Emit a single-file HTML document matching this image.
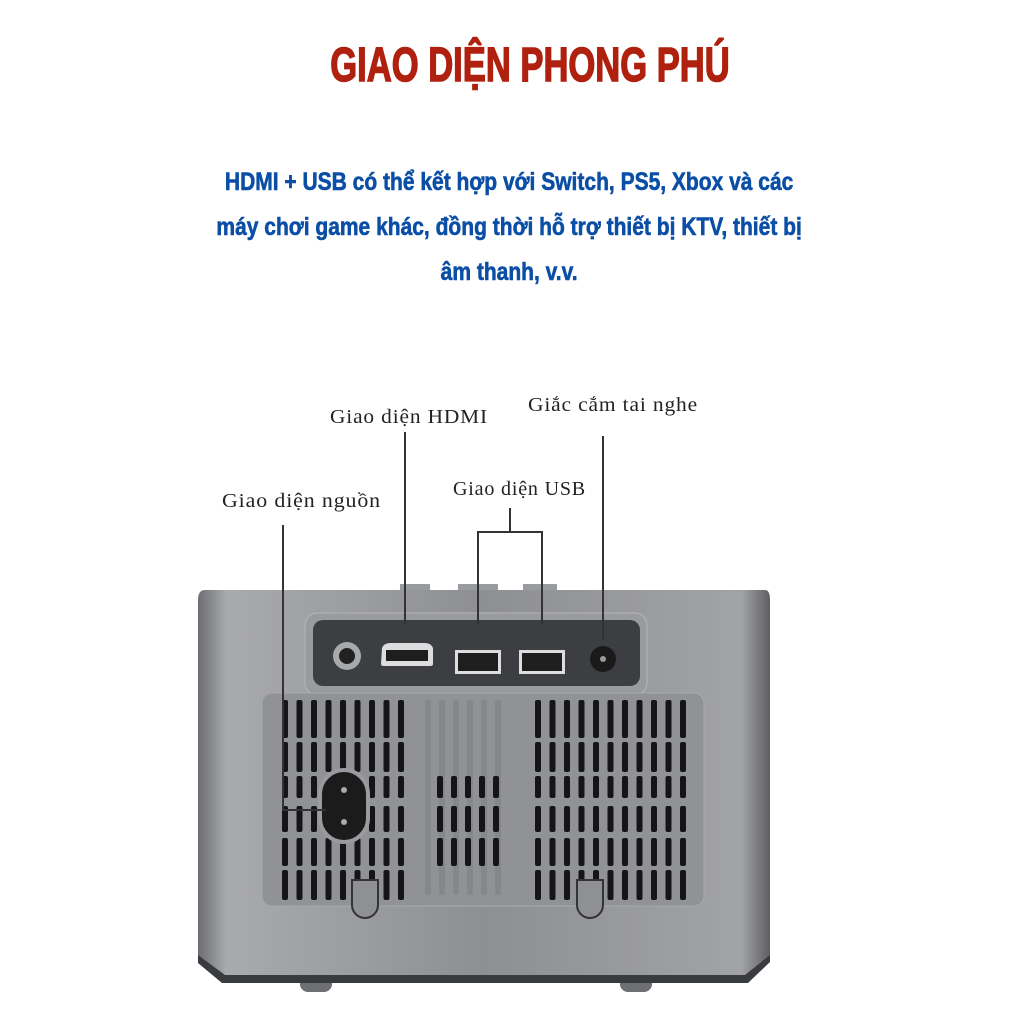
<!DOCTYPE html>
<html><head><meta charset="utf-8"><style>
html,body{margin:0;padding:0;background:#fff;}
body{width:1024px;height:1024px;overflow:hidden;position:relative;}
.t{position:absolute;left:0;width:1060px;text-align:center;font-family:"Liberation Sans Narrow","Liberation Sans",sans-serif;font-weight:bold;}
</style></head><body>
<div class="t" style="top:38px;font-size:48px;color:#b0200f;transform:scaleX(0.72);transform-origin:530px 0;left:0;width:1060px;-webkit-text-stroke:1.5px #b0200f">GIAO DIỆN PHONG PHÚ</div>
<div class="t" style="top:160px;font-size:25px;line-height:45px;color:#0b4ea6;transform:scaleX(0.84);transform-origin:512px 0;left:-18px;width:1060px;-webkit-text-stroke:0.6px #0b4ea6">HDMI + USB có thể kết hợp với Switch, PS5, Xbox và các<br>máy chơi game khác, đồng thời hỗ trợ thiết bị KTV, thiết bị<br>âm thanh, v.v.</div>
<svg width="1024" height="1024" style="position:absolute;left:0;top:0" xmlns="http://www.w3.org/2000/svg">
<defs>
<linearGradient id="bd" x1="0" x2="1" y1="0" y2="0">
<stop offset="0" stop-color="#6d6e72"/><stop offset="0.05" stop-color="#a9aaae"/><stop offset="0.5" stop-color="#8e8f93"/><stop offset="0.95" stop-color="#a2a3a7"/><stop offset="1" stop-color="#5e5f63"/></linearGradient>
</defs>
<g font-family="Liberation Serif,serif" font-size="20" fill="#222" letter-spacing="0.8">
<text x="330" y="423" textLength="158" lengthAdjust="spacingAndGlyphs">Giao diện HDMI</text>
<text x="528" y="411" textLength="170" lengthAdjust="spacingAndGlyphs">Giắc cắm tai nghe</text>
<text x="453" y="495" textLength="133" lengthAdjust="spacingAndGlyphs">Giao diện USB</text>
<text x="222" y="507" textLength="159" lengthAdjust="spacingAndGlyphs">Giao diện nguồn</text>
</g>
<rect x="400" y="584" width="30" height="8" fill="#9a9b9f"/>
<rect x="458" y="584" width="40" height="8" fill="#9a9b9f"/>
<rect x="523" y="584" width="34" height="8" fill="#9a9b9f"/>
<rect x="300" y="970" width="32" height="22" rx="8" fill="#6e6f73"/>
<rect x="620" y="970" width="32" height="22" rx="8" fill="#6e6f73"/>
<path d="M205 590 H765 Q770 590 770 600 V960 L745 975 H225 L198 960 V600 Q198 590 205 590Z" fill="url(#bd)"/>
<path d="M198 955 L225 975 H745 L770 955 V962 L748 983 H222 L198 963Z" fill="#3a3b3f"/>
<rect x="305" y="613" width="342" height="82" rx="12" fill="#9a9b9f" stroke="#b5b6ba"/>
<rect x="313" y="620" width="327" height="66" rx="10" fill="#3d3e42"/>
<circle cx="347" cy="656" r="14" fill="#a8a9ad"/><circle cx="347" cy="656" r="8" fill="#222"/>
<path d="M382 648 Q384 643 390 643 H425 Q431 643 433 648 L433 664 Q433 666 430 666 H384 Q381 666 381 664Z" fill="#ddd"/>
<path d="M386 650 H428 V661 H386Z" fill="#1e1e1e"/>
<rect x="455" y="650" width="46" height="24" fill="#ddd"/><rect x="458" y="653" width="40" height="18" fill="#1e1e1e"/>
<rect x="519" y="650" width="46" height="24" fill="#ddd"/><rect x="522" y="653" width="40" height="18" fill="#1e1e1e"/>
<circle cx="603" cy="659" r="13" fill="#1a1a1a"/><circle cx="603" cy="659" r="3" fill="#999"/>
<rect x="262" y="693" width="442" height="213" rx="10" fill="#919296" stroke="#a8a9ad"/>
<g id="slats"></g>
<rect x="320" y="770" width="48" height="72" rx="24" fill="#1b1b1b" stroke="#9a9b9f" stroke-width="4"/>
<circle cx="344" cy="790" r="3" fill="#aaa"/><circle cx="344" cy="822" r="3" fill="#aaa"/>
<path d="M352 880 h26 v25 a13 13 0 0 1 -26 0z" fill="#8f9094" stroke="#333" stroke-width="2"/>
<path d="M577 880 h26 v25 a13 13 0 0 1 -26 0z" fill="#8f9094" stroke="#333" stroke-width="2"/>
<g stroke="#333" stroke-width="2" fill="none">
<path d="M405 432 V625"/>
<path d="M603 436 V640"/>
<path d="M510 508 V532 M478 625 V532 H542 V625"/>
<path d="M283 525 V810 H326"/>
</g>
</svg>
<script>
var g=document.getElementById('slats'),ns='http://www.w3.org/2000/svg';
function r(x,y,w,h,c){var e=document.createElementNS(ns,'rect');e.setAttribute('x',x);e.setAttribute('y',y);e.setAttribute('width',w);e.setAttribute('height',h);e.setAttribute('rx',2);e.setAttribute('fill',c||'#151515');g.appendChild(e);}
var rows2=[[700,38],[742,30],[776,22],[806,26],[838,28],[870,30]];
for(var i=0;i<9;i++){var x=282+i*14.5;rows2.forEach(function(q){r(x,q[0],6,q[1]);});}
for(var i=0;i<11;i++){var x=535+i*14.5;rows2.forEach(function(q){r(x,q[0],6,q[1]);});}
for(var i=0;i<6;i++){var x=425+i*14;r(x,700,6,195,'#86878b');}
for(var i=0;i<5;i++){var x=437+i*14;[[776,22],[806,26],[838,28]].forEach(function(q){r(x,q[0],6,q[1]);});}
</script>
</body></html>
